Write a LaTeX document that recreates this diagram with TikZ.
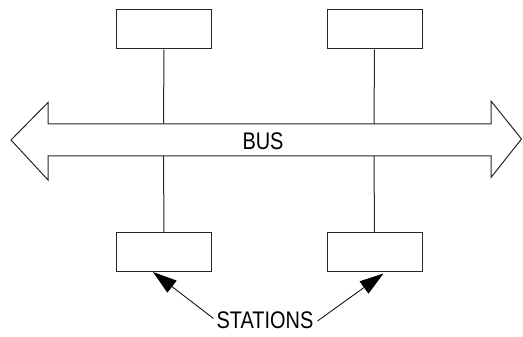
\documentclass[tikz,border=0pt]{standalone}
\usepackage{fontspec}
\setmainfont{Liberation Sans}
\usetikzlibrary{arrows.meta,calc}
\begin{document}
\begin{tikzpicture}[x=1pt,y=-1pt,
  stationbox/.style={draw=black!85,line width=1pt,minimum width=95pt,minimum height=39pt,inner sep=0pt,anchor=north west},
  conn/.style={draw=black!85,line width=1pt},
  pointer/.style={draw=black,line width=0.8pt,-{Triangle[length=24pt,width=15pt]}},
  lbl/.style={inner sep=0pt,font=\fontsize{24}{24}\selectfont}]
\useasboundingbox (0,0) rectangle (523,337);
% bus outline
\draw[conn,line join=miter] (11,140) -- (48,102.5) -- (48,124) -- (491,124) -- (491,101) -- (521.5,139) -- (491,177.5) -- (491,156) -- (48,156) -- (48,180) -- cycle;
\node[lbl] (bus) at (263,141) {\scalebox{0.83}[1]{BUS}};
% stations
\node[stationbox] (tl) at (116,9.5) {};
\node[stationbox] (tr) at (326.5,9.5) {};
\node[stationbox] (bl) at (116,232) {};
\node[stationbox] (br) at (326.5,232) {};
\coordinate (btl) at (163.5,124);
\coordinate (btr) at (374,124);
\coordinate (bbl) at (163.5,156);
\coordinate (bbr) at (374,156);
\draw[conn] (tl.south) -- (btl);
\draw[conn] (tr.south) -- (btr);
\draw[conn] (bl.north) -- (bbl);
\draw[conn] (br.north) -- (bbr);
% label
\node[lbl] (st) at (265,320.5) {\scalebox{0.83}[1]{STATIONS}};
\draw[pointer] ($(st.west)+(-3,-2)$) -- ($(bl.south west)+(37,0)$);
\draw[pointer] ($(st.east)+(4,0.5)$) -- ($(br.south east)+(-39,1.5)$);
\end{tikzpicture}
\end{document}
